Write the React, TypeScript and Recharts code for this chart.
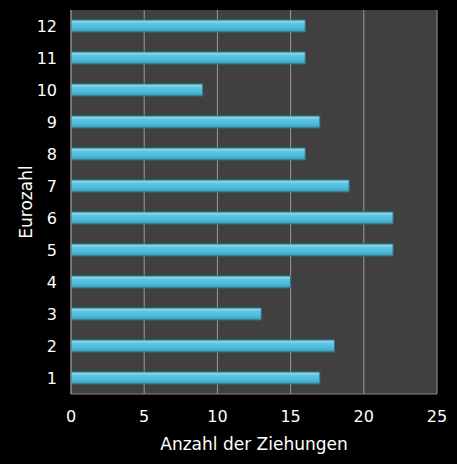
import React from 'react';
import { BarChart, Bar, XAxis, YAxis, CartesianGrid } from 'recharts';

const categories = ['1', '2', '3', '4', '5', '6', '7', '8', '9', '10', '11', '12'];
const counts = [17, 18, 13, 15, 22, 22, 19, 16, 17, 9, 16, 16];
const xTicks = [0, 5, 10, 15, 20, 25];

const data = categories.map((c, i) => ({ name: c, value: counts[i] }));

const font = '"DejaVu Sans", Verdana, sans-serif';

export default function App() {
  return (
    <div style={{ position: 'absolute', left: 0, top: 0, width: 457, height: 464, background: '#000' }}>
      <BarChart
        width={457}
        height={464}
        data={data}
        layout="vertical"
        margin={{ top: 10, right: 20, bottom: 0, left: 0 }}
        barCategoryGap={0}
      >
        <defs>
          <linearGradient id="barGrad" x1="0" y1="0" x2="0" y2="1">
            <stop offset="0%" stopColor="#9ae6f6" />
            <stop offset="25%" stopColor="#62c8e4" />
            <stop offset="75%" stopColor="#4cb4d4" />
            <stop offset="100%" stopColor="#3990ac" />
          </linearGradient>
        </defs>
        <CartesianGrid
          horizontal={false}
          vertical={true}
          stroke="#9a9a9a"
          fill="#404040"
          fillOpacity={1}
        />
        <XAxis
          type="number"
          domain={[0, 25]}
          ticks={xTicks}
          tickLine={false}
          tickSize={0}
          tickMargin={17}
          axisLine={{ stroke: '#8a8a8a' }}
          tick={{ fill: '#ffffff', fontSize: 16, fontFamily: font }}
          height={70}
          label={{
            value: 'Anzahl der Ziehungen',
            position: 'insideBottom',
            offset: 14,
            fill: '#ffffff',
            fontSize: 17,
            fontFamily: font,
          }}
        />
        <YAxis
          type="category"
          dataKey="name"
          reversed
          width={71}
          tickLine={false}
          tickSize={0}
          tickMargin={14}
          axisLine={{ stroke: '#8a8a8a' }}
          tick={{ fill: '#ffffff', fontSize: 16, fontFamily: font }}
          label={{
            value: 'Eurozahl',
            angle: -90,
            position: 'insideLeft',
            offset: 26,
            fill: '#ffffff',
            fontSize: 17,
            fontFamily: font,
            style: { textAnchor: 'middle' },
          }}
        />
        <Bar
          dataKey="value"
          barSize={12}
          fill="url(#barGrad)"
          stroke="#2f6f86"
          strokeWidth={1}
          isAnimationActive={false}
        />
      </BarChart>
    </div>
  );
}
